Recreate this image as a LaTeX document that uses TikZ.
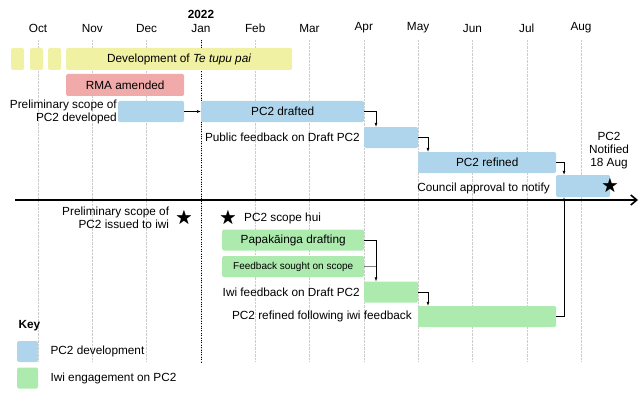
\documentclass[tikz,border=0pt]{standalone}
\usepackage{amssymb}
\usepackage{fontspec}
\setmainfont{Liberation Sans}
\usetikzlibrary{arrows.meta}
\definecolor{pcblue}{RGB}{174,213,235}
\definecolor{iwigreen}{RGB}{172,234,174}
\definecolor{tpyellow}{RGB}{240,241,162}
\definecolor{rmared}{RGB}{240,170,170}
\begin{document}
\begin{tikzpicture}[x=1pt,y=-1pt,font=\fontsize{11.8}{13}\selectfont,
    bar/.style = {rectangle,rounded corners=1.5pt,inner sep=0pt,minimum height=21pt,anchor=west},
    lbl/.style = {inner sep=1pt,anchor=east,align=right},
    link/.style = {-{Latex[length=4pt,width=3pt]},semithick}]
    \useasboundingbox (0,0) rectangle (643,404);
    % month grid
    \foreach \m [count=\j from 0] in {Oct,Nov,Dec,Jan,Feb,Mar,Apr,May,Jun,Jul,Aug} {
        \draw[gray!40,densely dotted] (38+54.3*\j,40) -- (38+54.3*\j,362);
        \node at (38+54.3*\j,28) {\m};
    }
    \draw[black,dotted] (200.9,40) -- (200.9,362);
    \node[font=\fontsize{11.8}{13}\selectfont\bfseries] at (201,14) {2022};
    % bars above the axis
    \foreach \x in {11,30,48} \node[bar,fill=tpyellow,minimum width=13pt,minimum height=22pt] at (\x,59) {};
    \node[bar,fill=tpyellow,minimum width=226pt,minimum height=22pt] (tupu) at (66,59) {Development of \textit{Te tupu pai}};
    \node[bar,fill=rmared,minimum width=118pt,minimum height=22pt] (rma) at (66,85) {RMA amended};
    \node[bar,fill=pcblue,minimum width=66pt] (prelim) at (118,111.5) {};
    \node[lbl] at (prelim.west) {Preliminary scope of\\PC2 developed};
    \node[bar,fill=pcblue,minimum width=163pt] (drafted) at (201,111.5) {PC2 drafted};
    \node[bar,fill=pcblue,minimum width=54pt] (public) at (364,137.5) {};
    \node[lbl] at ([xshift=-3pt]public.west) {Public feedback on Draft PC2};
    \node[bar,fill=pcblue,minimum width=138pt] (refined) at (418,162.5) {PC2 refined};
    \node[bar,fill=pcblue,minimum width=54pt,minimum height=22pt] (notify) at (556,186) {};
    \node[lbl] at ([xshift=-5pt,yshift=-2pt]notify.west) {Council approval to notify};
    \node[align=center] (notified) at (609,151) {PC2\\Notified\\18 Aug};
    \node[font=\LARGE] (starN) at (610,186) {$\bigstar$};
    \draw[link] (prelim.east) -- (drafted.west);
    \draw[link] (drafted.east) -| ([xshift=12pt]public.north west);
    \draw[link] (public.east) -| ([xshift=10pt]refined.north west);
    \draw[link] (refined.east) -| ([xshift=8pt]notify.north west);
    % time axis
    \draw[line width=1.6pt,-{Straight Barb[length=6pt,width=10pt]}] (15,200) -- (638,200);
    % iwi engagement below the axis
    \node[font=\LARGE] (star1) at (184,218) {$\bigstar$};
    \node[lbl] at ([xshift=-2pt]star1.west) {Preliminary scope of\\PC2 issued to iwi};
    \node[font=\LARGE] (star2) at (228,218) {$\bigstar$};
    \node[anchor=west] at ([xshift=1pt]star2.east) {PC2 scope hui};
    \node[bar,fill=iwigreen,minimum width=142pt] (papa) at (222,240) {Papakāinga drafting};
    \node[bar,fill=iwigreen,minimum width=142pt,font=\fontsize{10}{12}\selectfont] (sought) at (222,266.5) {Feedback sought on scope};
    \node[bar,fill=iwigreen,minimum width=54pt] (iwifb) at (364,292) {};
    \node[lbl] at ([xshift=-3pt]iwifb.west) {Iwi feedback on Draft PC2};
    \node[bar,fill=iwigreen,minimum width=138pt] (iwiref) at (418,316.5) {};
    \node[lbl] at ([xshift=-5pt]iwiref.west) {PC2 refined following iwi feedback};
    \draw[link] (papa.east) -| ([xshift=12pt]iwifb.north west);
    \draw[gray,semithick] (sought.east) -- ++(12,0);
    \draw[link] (iwifb.east) -| ([xshift=10pt]iwiref.north west);
    \draw[link] (iwiref.east) -| ([xshift=8pt]notify.south west);
    % key
    \node[font=\fontsize{11.8}{13}\selectfont\bfseries,anchor=west] at (15,326) {Key};
    \node[bar,fill=pcblue,minimum width=21pt] (keyA) at (17,351.5) {};
    \node[anchor=west] at (47,351.5) {PC2 development};
    \node[bar,fill=iwigreen,minimum width=21pt] (keyB) at (17,378) {};
    \node[anchor=west] at (47,378) {Iwi engagement on PC2};
\end{tikzpicture}
\end{document}
